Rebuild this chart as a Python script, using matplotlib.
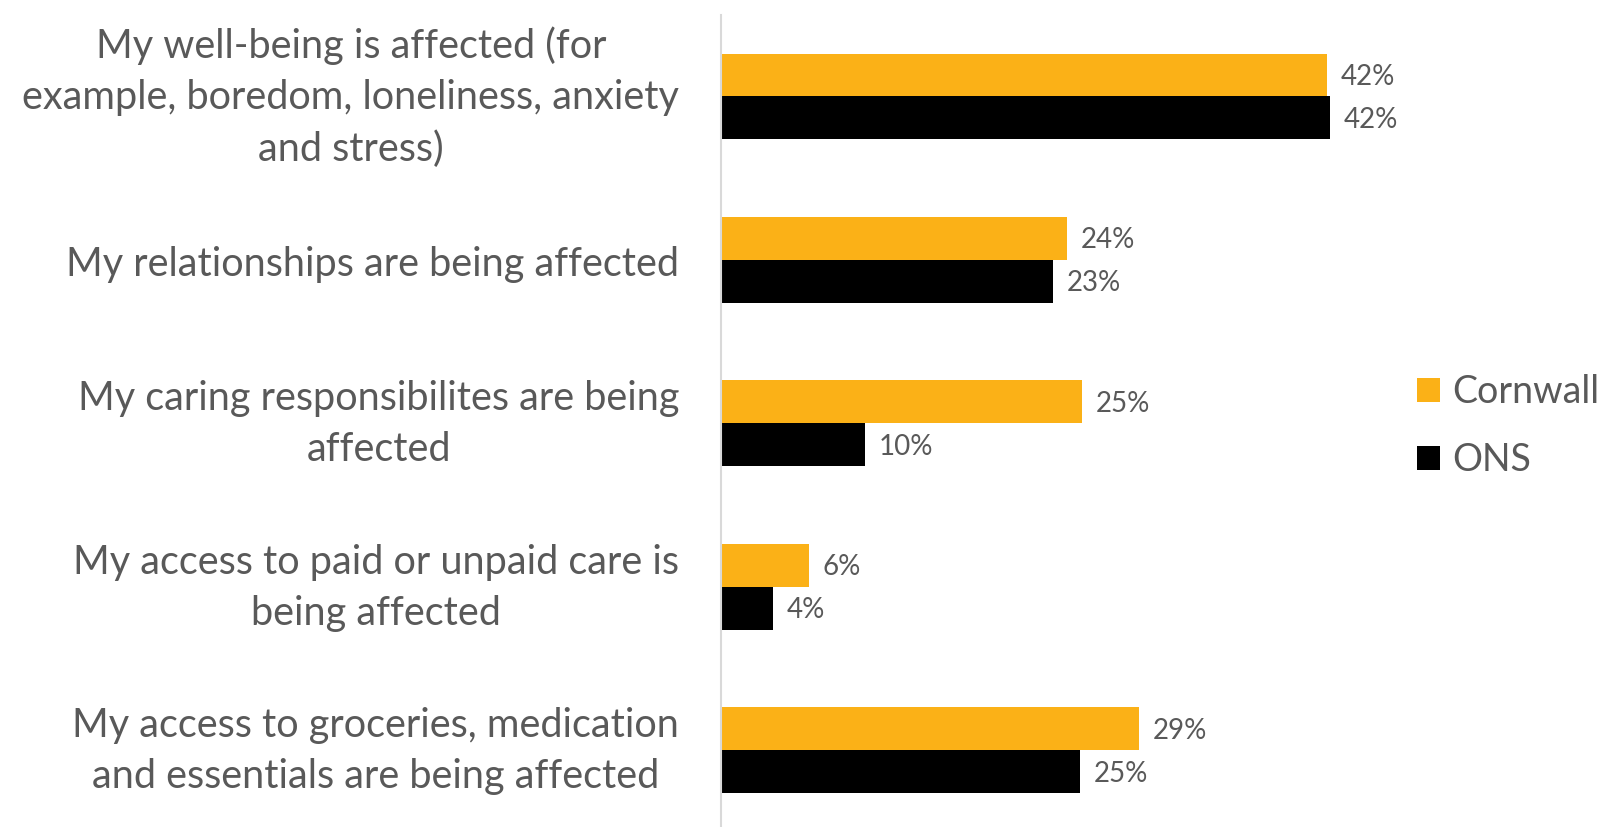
import numpy as np
import matplotlib.pyplot as plt

plt.rcParams['font.family'] = ['Lato', 'DejaVu Sans']

# Data
categories = ['My well-being is affected (for\nexample, boredom, loneliness, anxiety\nand stress)',
              'My relationships are being affected',
              'My caring responsibilites are being\naffected',
              'My access to paid or unpaid care is\nbeing affected',
              'My access to groceries, medication\nand essentials are being affected']
cornwall = [42.0, 24.0, 25.0, 6.1, 29.0]
ons = [42.2, 23.0, 10.0, 3.6, 24.9]
series_names = ['Cornwall', 'ONS']

orange = '#FBB117'
grey_text = '#595959'

fig = plt.figure(figsize=(16.07, 8.27), dpi=100)
ax = fig.add_axes([721 / 1607, 0, (1370 - 721) / 1607, (827 - 14.7) / 827])

y = np.arange(len(categories))
h = 0.2625
b1 = ax.barh(y - h / 2, cornwall, height=h, color=orange, label=series_names[0])
b2 = ax.barh(y + h / 2, ons, height=h, color='black', label=series_names[1])

for bars, vals in [(b1, cornwall), (b2, ons)]:
    for bar, v in zip(bars, vals):
        ax.annotate(f'{v:.0f}%', (bar.get_width(), bar.get_y() + bar.get_height() / 2),
                    xytext=(10, -1.5), textcoords='offset points', va='center', ha='left',
                    fontsize=20, color=grey_text)

ax.set_xlim(0, 45)
ax.set_ylim(4.47, -0.5)
ax.set_yticks([])
ax.set_xticks([])

# category labels, offsets tuned so they centre on the bar pairs
for yi, cat in zip(y, categories):
    dy = -0.6 if '\n' in cat else -3
    ax.annotate(cat, (0, yi), xycoords=ax.get_yaxis_transform(),
                xytext=(-30, dy), textcoords='offset points',
                ha='right', va='center', multialignment='center',
                fontsize=28.5, color=grey_text, linespacing=1.47)

# hide borders except the left axis line
for s in ['top', 'right', 'bottom']:
    ax.spines[s].set_visible(False)
ax.spines['left'].set_color('#D9D9D9')
ax.spines['left'].set_linewidth(1.5)

fig.legend(handles=[b1, b2], labels=series_names, loc='center left',
           bbox_to_anchor=(1417 / 1607, 1 - 426 / 827), frameon=False,
           borderpad=0, borderaxespad=0,
           fontsize=27, labelcolor=grey_text, handlelength=0.6, handleheight=0.6,
           handletextpad=0.33, labelspacing=0.85)

fig.savefig('out.png', dpi=100)
